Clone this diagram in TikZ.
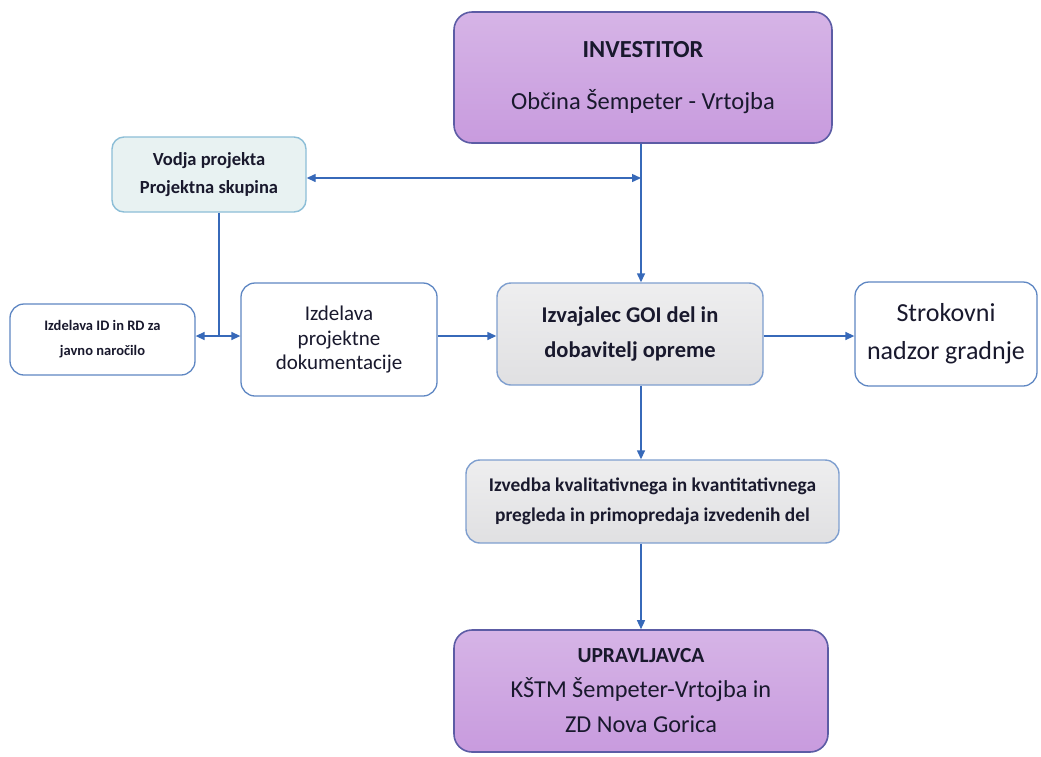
\documentclass[tikz,border=0pt]{standalone}
\usepackage{fontspec}
\setmainfont{Carlito}
\usetikzlibrary{arrows.meta,calc}
\definecolor{purp}{RGB}{200,155,222}
\definecolor{purpline}{RGB}{92,92,165}
\definecolor{boxline}{RGB}{95,135,195}
\definecolor{lightline}{RGB}{140,190,215}
\definecolor{cyanfill}{RGB}{232,242,242}
\definecolor{grayfill}{RGB}{224,224,226}
\definecolor{arr}{RGB}{55,105,185}
\definecolor{txt}{RGB}{25,25,45}
\tikzset{
  purpbox/.style={draw=purpline, line width=1.6pt, rounded corners=18pt, top color=purp!75!white, bottom color=purp, inner sep=0pt, align=center, text=txt},
  whitebox/.style={draw=boxline, line width=1.3pt, rounded corners=14pt, fill=white, inner sep=0pt, align=center, text=txt},
  cyanbox/.style={draw=lightline, line width=1.4pt, rounded corners=12pt, fill=cyanfill, inner sep=0pt, align=center, text=txt},
  graybox/.style={draw=boxline!80!white, line width=1.4pt, rounded corners=14pt, top color=grayfill!55!white, bottom color=grayfill, inner sep=0pt, align=center, text=txt},
  conn/.style={draw=arr, line width=1.4pt, -{Triangle[length=9pt,width=8pt]}},
  conn2/.style={draw=arr, line width=1.4pt, {Triangle[length=9pt,width=8pt]}-{Triangle[length=9pt,width=8pt]}},
  plain/.style={draw=arr, line width=1.4pt}
}
\begin{document}
\begin{tikzpicture}[x=1pt,y=-1pt]
\useasboundingbox (0,0) rectangle (1041,756);
\fill[white] (0,0) rectangle (1041,756);

\node[purpbox, minimum width=378pt, minimum height=131pt,
  font=\fontsize{24.5}{30}\selectfont] (inv) at (643,77.5)
  {\bfseries INVESTITOR\\[22pt]
   Občina Šempeter - Vrtojba};

\node[cyanbox, minimum width=194pt, minimum height=75pt,
  font=\fontsize{18.5}{28}\selectfont\bfseries] (vod) at (209,174.5)
  {Vodja projekta\\ Projektna skupina};

\node[whitebox, minimum width=185pt, minimum height=71pt,
  font=\fontsize{14.5}{25}\selectfont\bfseries] (idrd) at (102.5,339.5)
  {Izdelava ID in RD za\\ javno naročilo};

\node[whitebox, minimum width=196pt, minimum height=113pt,
  font=\fontsize{21}{24.5}\selectfont] (ipd) at (339,339.5)
  {Izdelava\\ projektne\\ dokumentacije};

\node[graybox, minimum width=266pt, minimum height=102pt,
  font=\fontsize{22.5}{35}\selectfont\bfseries] (goi) at (630,334)
  {Izvajalec GOI del in\\ dobavitelj opreme};

\node[whitebox, minimum width=182pt, minimum height=104pt,
  font=\fontsize{26}{38}\selectfont] (str) at (946,334)
  {Strokovni\\ nadzor gradnje};

\node[graybox, minimum width=373pt, minimum height=83pt,
  font=\fontsize{19.4}{30}\selectfont\bfseries] (izv) at (652.5,501.5)
  {Izvedba kvalitativnega in kvantitativnega\\ pregleda in primopredaja izvedenih del};

\node[purpbox, minimum width=374pt, minimum height=122pt,
  font=\fontsize{24.3}{35}\selectfont] (upr) at (641,691)
  {\fontsize{21.5}{35}\selectfont\bfseries UPRAVLJAVCA\\
   KŠTM Šempeter-Vrtojba in\\
   ZD Nova Gorica};

\coordinate (t) at (641,178);
\coordinate (b) at (219,336);

\draw[conn] (inv.south -| t) -- (goi.north -| t);
\draw[conn2] (vod.east |- t) -- (t);
\draw[plain] (vod.south -| b) -- (b);
\draw[conn2] (idrd.east |- b) -- (ipd.west |- b);
\draw[conn] (ipd.east |- b) -- (goi.west |- b);
\draw[conn] (goi.east |- b) -- (str.west |- b);
\draw[conn] (goi.south -| t) -- (izv.north -| t);
\draw[conn] (izv.south -| t) -- (upr.north -| t);
\end{tikzpicture}
\end{document}
